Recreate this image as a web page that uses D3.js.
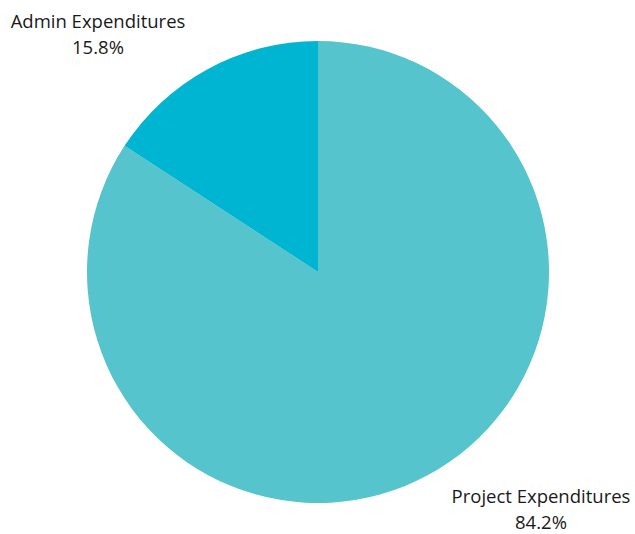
<!DOCTYPE html>
<html>
<head>
<meta charset="utf-8">
<script src="https://cdn.jsdelivr.net/npm/d3@7"></script>
<style>
  html, body { margin: 0; padding: 0; background: #fff; }
  text { font-family: "Open Sans", "Noto Sans", sans-serif; font-size: 18.5px; fill: #1a1a1a; }
</style>
</head>
<body>
<svg id="chart" width="635" height="534"></svg>
<script>
// Expenditure split (percent of total)
const categories = ["Project Expenditures", "Admin Expenditures"];
const values = [84.2, 15.8];
const colors = ["#55c4cc", "#00b5d1"];

const svg = d3.select("#chart");
const cx = 318, cy = 272, radius = 231;

const pie = d3.pie().sort(null).value(d => d.value);
const arc = d3.arc().innerRadius(0).outerRadius(radius);

const data = categories.map((c, i) => ({ name: c, value: values[i], color: colors[i] }));

const g = svg.append("g").attr("transform", `translate(${cx},${cy})`);
g.selectAll("path")
  .data(pie(data))
  .join("path")
  .attr("d", arc)
  .attr("fill", d => d.data.color);

// Labels placed outside the pie
const labelPos = {
  "Admin Expenditures": [98, 28],
  "Project Expenditures": [541, 503]
};
data.forEach(d => {
  const [x, y] = labelPos[d.name];
  const t = svg.append("text").attr("text-anchor", "middle");
  t.append("tspan").attr("x", x).attr("y", y).text(d.name);
  t.append("tspan").attr("x", x).attr("y", y + 26).text(d3.format(".1f")(d.value) + "%");
});
</script>
</body>
</html>
